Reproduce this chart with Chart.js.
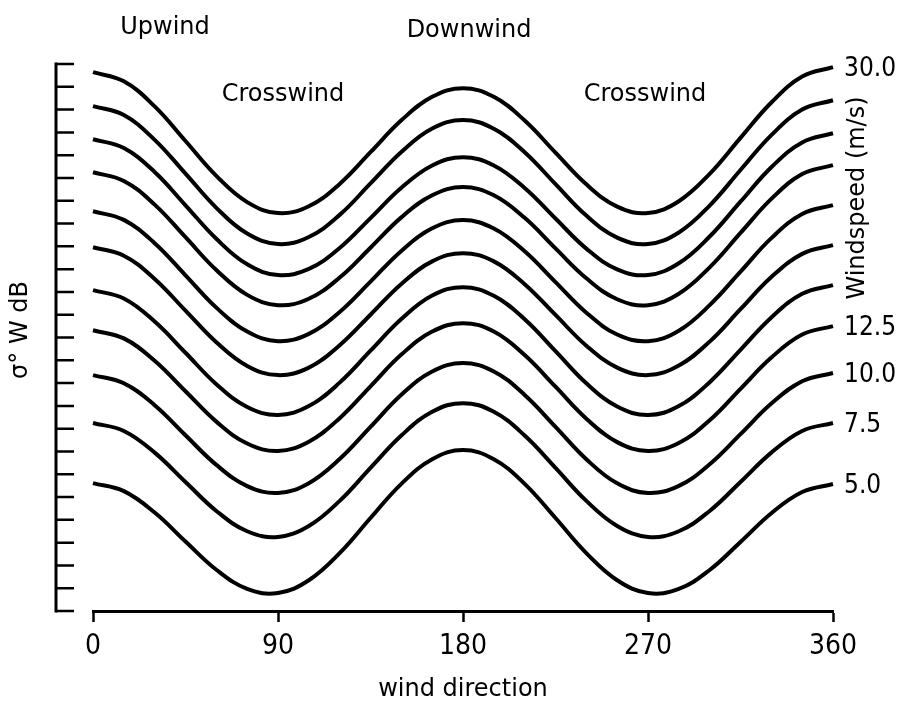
<!DOCTYPE html>
<html>
<head>
<meta charset="utf-8">
<script src="https://cdn.jsdelivr.net/npm/chart.js@4.4.1/dist/chart.umd.min.js"></script>
<style>
  body { margin: 0; background: #fff; }
</style>
</head>
<body>
<canvas id="myChart" width="900" height="708"></canvas>
<script>
// wind direction samples (deg)
const angles = [0, 15, 30, 45, 60, 75, 90, 105, 120, 135, 150, 165, 180,
                195, 210, 225, 240, 255, 270, 285, 300, 315, 330, 345, 360];

// sigma0 per windspeed, arbitrary dB units (one unit = one axis tick)
const ws300 = [23.64, 23.24, 22.14, 20.62, 19.09, 17.94, 17.46, 17.76, 18.74, 20.13, 21.53, 22.56, 22.94, 22.56, 21.52, 20.11, 18.72, 17.74, 17.46, 17.98, 19.18, 20.76, 22.31, 23.45, 23.86];
const ws275 = [22.15, 21.76, 20.67, 19.19, 17.69, 16.56, 16.10, 16.41, 17.38, 18.76, 20.14, 21.17, 21.54, 21.16, 20.13, 18.73, 17.35, 16.38, 16.10, 16.61, 17.79, 19.35, 20.88, 22.00, 22.41];
const ws250 = [20.70, 20.31, 19.26, 17.80, 16.33, 15.21, 14.74, 15.01, 15.93, 17.24, 18.57, 19.55, 19.91, 19.55, 18.56, 17.22, 15.90, 14.99, 14.74, 15.26, 16.43, 17.96, 19.47, 20.56, 20.96];
const ws225 = [19.25, 18.87, 17.83, 16.40, 14.96, 13.87, 13.42, 13.70, 14.63, 15.94, 17.27, 18.24, 18.60, 18.24, 17.25, 15.91, 14.60, 13.68, 13.42, 13.92, 15.08, 16.59, 18.08, 19.17, 19.56];
const ws200 = [17.54, 17.16, 16.14, 14.73, 13.31, 12.26, 11.84, 12.16, 13.12, 14.45, 15.80, 16.79, 17.15, 16.78, 15.78, 14.43, 13.09, 12.13, 11.84, 12.30, 13.42, 14.89, 16.36, 17.42, 17.81];
const ws175 = [15.96, 15.59, 14.57, 13.18, 11.79, 10.75, 10.35, 10.68, 11.66, 13.00, 14.35, 15.34, 15.70, 15.34, 14.34, 12.99, 11.64, 10.68, 10.35, 10.77, 11.82, 13.24, 14.65, 15.67, 16.05];
const ws150 = [14.08, 13.71, 12.70, 11.33, 9.95, 8.95, 8.60, 8.99, 10.02, 11.42, 12.81, 13.84, 14.21, 13.83, 12.80, 11.40, 9.99, 8.97, 8.60, 8.99, 10.04, 11.46, 12.88, 13.92, 14.30];
const ws125 = [12.32, 11.96, 10.98, 9.64, 8.31, 7.35, 7.02, 7.43, 8.46, 9.86, 11.25, 12.26, 12.63, 12.26, 11.23, 9.84, 8.44, 7.41, 7.02, 7.37, 8.37, 9.75, 11.12, 12.13, 12.50];
const ws100 = [10.35, 9.99, 9.03, 7.71, 6.41, 5.48, 5.18, 5.61, 6.67, 8.08, 9.49, 10.51, 10.88, 10.51, 9.48, 8.08, 6.66, 5.60, 5.18, 5.49, 6.44, 7.76, 9.10, 10.08, 10.44];
const ws075 = [8.25, 7.90, 6.95, 5.66, 4.39, 3.50, 3.25, 3.73, 4.83, 6.28, 7.70, 8.74, 9.12, 8.74, 7.70, 6.28, 4.83, 3.73, 3.25, 3.50, 4.39, 5.66, 6.95, 7.90, 8.25];
const ws050 = [5.61, 5.26, 4.32, 3.05, 1.81, 0.97, 0.79, 1.35, 2.54, 4.08, 5.58, 6.66, 7.06, 6.66, 5.58, 4.08, 2.54, 1.35, 0.79, 0.97, 1.80, 3.03, 4.29, 5.22, 5.57];

const series = [ws300, ws275, ws250, ws225, ws200, ws175, ws150, ws125, ws100, ws075, ws050];
const speedLabels = ['30.0', '', '', '', '', '', '', '12.5', '10.0', '7.5', '5.0'];

const xTicks = [0, 90, 180, 270, 360];
const yTicks = [0, 1, 2, 3, 4, 5, 6, 7, 8, 9, 10, 11, 12, 13, 14, 15, 16, 17, 18, 19, 20, 21, 22, 23, 24];

const WORD_FONT = "'DejaVu Sans', sans-serif";
const NUM_FONT = "'DejaVu Sans Condensed', 'Liberation Sans Narrow', 'DejaVu Sans', sans-serif";

// left axis sits away from the plot, ticks point inward; plus the free text
const decorPlugin = {
  id: 'decor',
  afterDraw(chart) {
    const ctx = chart.ctx;
    const y = chart.scales.y;
    const area = chart.chartArea;
    const ax = 56;
    ctx.save();
    ctx.strokeStyle = '#000';
    ctx.lineWidth = 3;
    ctx.beginPath();
    ctx.moveTo(ax, y.getPixelForValue(24) - 1.5);
    ctx.lineTo(ax, y.getPixelForValue(0) + 1.5);
    ctx.stroke();
    ctx.lineWidth = 2.5;
    ctx.beginPath();
    yTicks.forEach(v => {
      const py = y.getPixelForValue(v);
      ctx.moveTo(ax, py);
      ctx.lineTo(ax + 18, py);
    });
    ctx.stroke();

    ctx.fillStyle = '#000';
    ctx.textBaseline = 'middle';
    ctx.textAlign = 'center';
    ctx.font = '24px ' + WORD_FONT;
    ctx.fillText('Upwind', 165, 28);
    ctx.fillText('Downwind', 469, 31);
    ctx.fillText('Crosswind', 283, 95);
    ctx.fillText('Crosswind', 645, 95);

    // windspeed labels at the end of each curve
    ctx.textAlign = 'left';
    ctx.font = '26px ' + NUM_FONT;
    series.forEach((vals, i) => {
      if (!speedLabels[i]) return;
      const py = y.getPixelForValue(vals[vals.length - 1]);
      ctx.fillText(speedLabels[i], area.right + 11, py + 2);
    });

    ctx.font = '24px ' + WORD_FONT;
    ctx.textAlign = 'center';
    ctx.save();
    ctx.translate(858, 198);
    ctx.rotate(-Math.PI / 2);
    ctx.fillText('Windspeed (m/s)', 0, 0);
    ctx.restore();

    ctx.save();
    ctx.translate(21, 330);
    ctx.rotate(-Math.PI / 2);
    ctx.fillText('σ° W dB', 0, 0);
    ctx.restore();
    ctx.restore();
  }
};

const chartArea = document.getElementById('myChart').getContext('2d');
const myChart = new Chart(chartArea, {
  type: 'line',
  data: {
    datasets: series.map((vals, i) => ({
      label: speedLabels[i],
      data: angles.map((a, j) => ({ x: a, y: vals[j] })),
      borderColor: '#000',
      borderWidth: 4,
      pointRadius: 0,
      fill: false,
      clip: false,
      tension: 0.4
    }))
  },
  options: {
    responsive: false,
    animation: false,
    devicePixelRatio: 1,
    layout: { padding: { left: 93, right: 67, top: 64, bottom: 0 } },
    plugins: {
      legend: { display: false },
      tooltip: { enabled: false }
    },
    scales: {
      x: {
        type: 'linear',
        min: 0,
        max: 360,
        afterBuildTicks: s => { s.ticks = xTicks.map(v => ({ value: v })); },
        afterFit: s => { s.height = 97; },
        grid: { drawOnChartArea: false, drawTicks: true, tickLength: 11, tickColor: '#000', tickWidth: 2.5 },
        border: { display: true, color: '#000', width: 3 },
        ticks: {
          color: '#000',
          padding: 8,
          maxRotation: 0,
          autoSkip: false,
          font: { family: NUM_FONT, size: 28 }
        },
        title: {
          display: true,
          text: 'wind direction',
          color: '#000',
          font: { family: WORD_FONT, size: 24 },
          padding: { top: 0, bottom: 4 }
        }
      },
      y: { display: false, min: 0, max: 24 }
    }
  },
  plugins: [decorPlugin]
});
</script>
</body>
</html>
